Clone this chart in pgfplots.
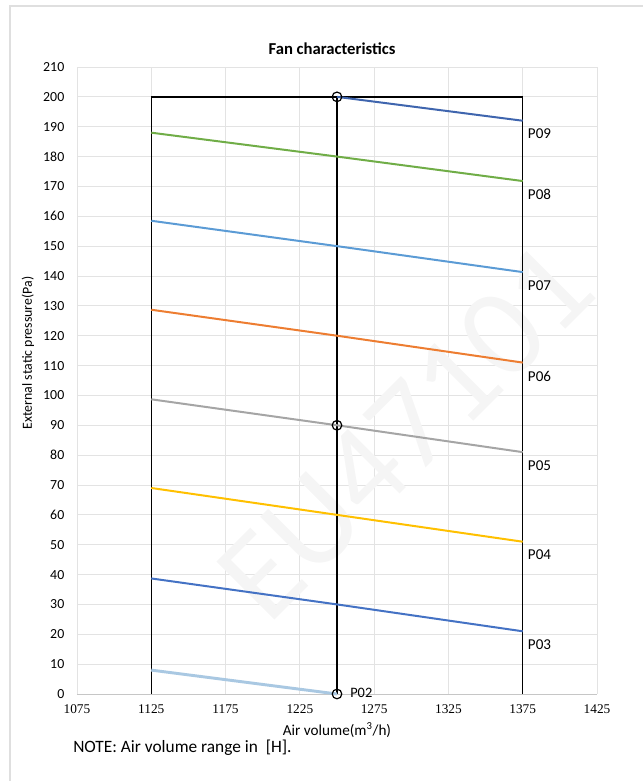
\documentclass[border=0pt]{standalone}
\usepackage{pgfplots}
\pgfplotsset{compat=1.18}
\usepackage{fontspec}
\setmainfont{Carlito}
\newfontfamily\xfont{Liberation Serif}
\definecolor{cP09}{HTML}{3F65AE}
\definecolor{cP08}{HTML}{70AD47}
\definecolor{cP07}{HTML}{5B9BD5}
\definecolor{cP06}{HTML}{ED7D31}
\definecolor{cP05}{HTML}{A5A5A5}
\definecolor{cP04}{HTML}{FFC000}
\definecolor{cP03}{HTML}{4472C4}
\definecolor{cP02}{HTML}{A9C8E2}
\tikzset{plab/.style={anchor=north west, font=\fontsize{11.3pt}{13pt}\selectfont, inner sep=0pt, xshift=3.75pt, yshift=-6pt}}
\begin{document}
\begin{tikzpicture}
\path[use as bounding box] (-57.75pt,-65.25pt) rectangle (424.5pt,520.5pt);
\draw[gray!25, line width=0.8pt] (-50.25pt,-65.25pt) -- (-50.25pt,516pt) -- (424.5pt,516pt);
\begin{axis}[
  scale only axis, width=390pt, height=470.25pt,
  xmin=1075, xmax=1425, ymin=0, ymax=210,
  xtick={1075,1125,...,1425}, ytick={0,10,...,210},
  grid=major, grid style={gray!22, line width=0.6pt},
  axis x line*=bottom, axis y line*=left,
  x axis line style={draw=gray!45, -}, y axis line style={draw=none},
  tick style={draw=none},
  /pgf/number format/assume math mode=true,
  /pgf/number format/set thousands separator={},
  xticklabel style={font=\xfont\fontsize{10pt}{11pt}\selectfont, yshift=-4.5pt},
  yticklabel style={font=\fontsize{10.4pt}{12pt}\selectfont, xshift=-6pt},
  clip=false,
]
\node[rotate=45, text=gray!8, font=\fontsize{96pt}{100pt}\selectfont] at (axis cs:1296,88) {EU47101};
% black frame
\addplot[black, line width=1.1pt] coordinates {(1125,0) (1125,200) (1375,200) (1375,0)};
\addplot[black, line width=1.1pt] coordinates {(1250,0) (1250,200)};
% curves
\addplot[cP09, line width=1.5pt] coordinates {(1250,200) (1375,192)};
\addplot[cP08, line width=1.5pt] coordinates {(1125,188) (1250,180) (1375,171.8)};
\addplot[cP07, line width=1.5pt] coordinates {(1125,158.5) (1250,150) (1375,141.3)};
\addplot[cP06, line width=1.5pt] coordinates {(1125,128.7) (1250,120) (1375,111)};
\addplot[cP05, line width=1.5pt] coordinates {(1125,98.7) (1250,90) (1375,81)};
\addplot[cP04, line width=1.5pt] coordinates {(1125,69) (1250,60) (1375,51)};
\addplot[cP03, line width=1.5pt] coordinates {(1125,38.7) (1250,30) (1375,21)};
\addplot[cP02, line width=2.2pt] coordinates {(1125,8) (1250,0)};
% circles
\addplot[only marks, mark=o, mark size=3.6pt, mark options={black, line width=0.9pt}] coordinates {(1250,200) (1250,90) (1250,0)};
% labels
\node[plab] at (axis cs:1375,192) {P09};
\node[plab] at (axis cs:1375,171.8) {P08};
\node[plab] at (axis cs:1375,141.3) {P07};
\node[plab] at (axis cs:1375,111) {P06};
\node[plab] at (axis cs:1375,81) {P05};
\node[plab] at (axis cs:1375,51) {P04};
\node[plab] at (axis cs:1375,21) {P03};
\node[anchor=base west, font=\fontsize{10.8pt}{13pt}\selectfont, inner sep=0pt, xshift=9.75pt, yshift=-2.25pt] at (axis cs:1250,0) {P02};
\end{axis}
\node[anchor=base, font=\bfseries\fontsize{12.5pt}{14pt}\selectfont] at (191.25pt,479.25pt) {Fan characteristics};
\node[anchor=base, font=\fontsize{11.4pt}{13pt}\selectfont, inner sep=0pt] at (195pt,-30.75pt) {Air volume(m\textsuperscript{3}/h)};
\node[anchor=base west, font=\fontsize{13pt}{15pt}\selectfont, inner sep=0pt] at (-3pt,-44.25pt) {NOTE: Air volume range in\ \ [H].};
\node[rotate=90, font=\fontsize{10.4pt}{12pt}\selectfont] at (-36.75pt,255.75pt) {External static pressure(Pa)};
\end{tikzpicture}
\end{document}
